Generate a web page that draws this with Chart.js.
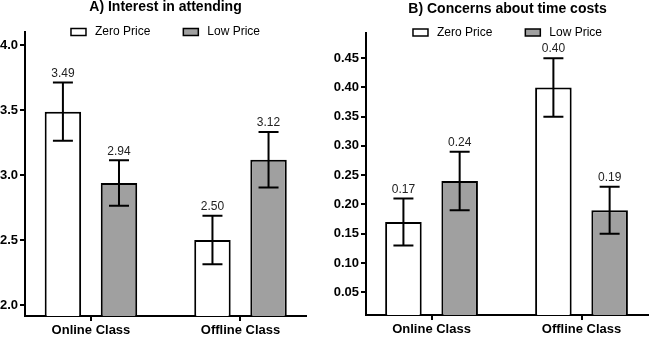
<!DOCTYPE html>
<html>
<head>
<meta charset="utf-8">
<script src="https://cdn.jsdelivr.net/npm/chart.js@4.4.0/dist/chart.umd.min.js"></script>
<style>
  html, body { margin: 0; padding: 0; background: #fff; }
  #wrap { position: relative; width: 649px; height: 337px; }
  #boxA { position: absolute; left: 0; top: 0; width: 320px; height: 337px; }
  #boxB { position: absolute; left: 320px; top: 0; width: 329px; height: 337px; }
</style>
</head>
<body>
<div id="wrap">
  <div id="boxA"><canvas id="chartA" width="320" height="337"></canvas></div>
  <div id="boxB"><canvas id="chartB" width="329" height="337"></canvas></div>
</div>
<script>
// categories + series
const classes = ['Online Class', 'Offline Class'];
const seriesNames = ['Zero Price', 'Low Price'];
const seriesColors = ['#ffffff', '#a0a0a0'];

// A) interest in attending
const interestZero = [3.49, 2.50];
const interestZeroErr = [0.225, 0.187];
const interestLow = [2.94, 3.12];
const interestLowErr = [0.175, 0.214];
const interestTicks = [2.0, 2.5, 3.0, 3.5, 4.0];

// B) concerns about time costs
const timeZero = [0.17, 0.40];
const timeZeroErr = [0.04, 0.05];
const timeLow = [0.24, 0.19];
const timeLowErr = [0.05, 0.04];
const timeTicks = [0.05, 0.10, 0.15, 0.20, 0.25, 0.30, 0.35, 0.40, 0.45];

const family = "'Liberation Sans', Arial, Helvetica, sans-serif";
Chart.defaults.font.family = family;

// error bars + value labels on top
const errorBars = {
  id: 'errorBars',
  afterDatasetsDraw(chart) {
    const ctx = chart.ctx;
    const yScale = chart.scales.y;
    chart.data.datasets.forEach((ds, di) => {
      chart.getDatasetMeta(di).data.forEach((bar, i) => {
        const v = ds.data[i].y, e = ds.errors[i];
        const top = yScale.getPixelForValue(v + e);
        const bot = yScale.getPixelForValue(v - e);
        ctx.save();
        ctx.strokeStyle = '#000';
        ctx.lineWidth = 2;
        ctx.beginPath();
        ctx.moveTo(bar.x, top); ctx.lineTo(bar.x, bot);
        ctx.moveTo(bar.x - 10, top); ctx.lineTo(bar.x + 10, top);
        ctx.moveTo(bar.x - 10, bot); ctx.lineTo(bar.x + 10, bot);
        ctx.stroke();
        ctx.fillStyle = '#222';
        ctx.font = '12px ' + family;
        ctx.textAlign = 'center';
        ctx.textBaseline = 'bottom';
        ctx.fillText(v.toFixed(2), bar.x, top - 3);
        ctx.restore();
      });
    });
  }
};

// title + legend with flat boxes, both centered over the plot area
const header = {
  id: 'header',
  afterDraw(chart, args, opts) {
    const ctx = chart.ctx, area = chart.chartArea;
    const mid = (area.left + area.right) / 2;
    ctx.save();
    ctx.fillStyle = '#000';
    ctx.font = 'bold 14px ' + family;
    ctx.textAlign = 'center';
    ctx.textBaseline = 'alphabetic';
    ctx.fillText(opts.title, mid, opts.titleY);

    ctx.font = '12px ' + family;
    const items = chart.data.datasets.map(ds => ({
      text: ds.label, color: ds.backgroundColor, w: ctx.measureText(ds.label).width
    }));
    const total = items.reduce((s, it) => s + 24 + it.w, 0) + 33 * (items.length - 1);
    let x = mid - total / 2;
    const yc = opts.legendY;
    items.forEach(it => {
      ctx.fillStyle = it.color;
      ctx.fillRect(x, yc - 3.5, 15, 7);
      ctx.strokeStyle = '#000';
      ctx.lineWidth = 1.5;
      ctx.strokeRect(x, yc - 3.5, 15, 7);
      ctx.fillStyle = '#000';
      ctx.textAlign = 'left';
      ctx.textBaseline = 'middle';
      ctx.fillText(it.text, x + 24, yc);
      x += 24 + it.w + 33;
    });
    ctx.restore();
  }
};

function makeChart(id, cfg) {
  const toPts = arr => arr.map((v, i) => ({ x: i, y: v }));
  return new Chart(document.getElementById(id), {
    type: 'bar',
    data: {
      datasets: [
        { label: seriesNames[0], data: toPts(cfg.zero), errors: cfg.zeroErr,
          backgroundColor: seriesColors[0], borderColor: '#000', borderWidth: 2 },
        { label: seriesNames[1], data: toPts(cfg.low), errors: cfg.lowErr,
          backgroundColor: seriesColors[1], borderColor: '#000', borderWidth: 2 }
      ]
    },
    options: {
      responsive: false,
      animation: false,
      categoryPercentage: 0.75,
      barPercentage: 0.65,
      layout: { padding: { left: 0, right: cfg.padRight, top: cfg.padTop, bottom: 0 } },
      plugins: {
        legend: { display: false },
        tooltip: { enabled: false },
        title: { display: false },
        header: { title: cfg.title, titleY: cfg.titleY, legendY: cfg.legendY }
      },
      scales: {
        x: {
          type: 'linear', min: cfg.xMin, max: cfg.xMax, offset: false,
          afterBuildTicks: s => { s.ticks = classes.map((c, i) => ({ value: i })); },
          afterFit: s => { s.height = cfg.xHeight; },
          ticks: { callback: v => classes[v], color: '#000', font: { size: 13, weight: 'bold' },
                   padding: 2, maxRotation: 0, autoSkip: false },
          grid: { offset: false, drawOnChartArea: false, tickLength: 5, color: '#000', lineWidth: 2 },
          border: { color: '#000', width: 2 }
        },
        y: {
          min: cfg.yMin, max: cfg.yMax,
          afterBuildTicks: s => { s.ticks = cfg.ticks.map(v => ({ value: v })); },
          afterFit: s => { s.width = cfg.yWidth; },
          ticks: { callback: v => v.toFixed(cfg.decimals), color: '#000', font: { size: 13, weight: 'bold' }, padding: 2 },
          grid: { drawOnChartArea: false, tickLength: 5, color: '#000', lineWidth: 2 },
          border: { color: '#000', width: 2 }
        }
      }
    },
    plugins: [errorBars, header]
  });
}

makeChart('chartA', {
  title: 'A) Interest in attending', titleY: 11, legendY: 32, padTop: 32,
  zero: interestZero, zeroErr: interestZeroErr, low: interestLow, lowErr: interestLowErr,
  ticks: interestTicks, decimals: 1, yMin: 1.915, yMax: 4.104, yWidth: 25,
  xMin: -0.441, xMax: 1.438, xHeight: 21, padRight: 14
});

makeChart('chartB', {
  title: 'B) Concerns about time costs', titleY: 13.3, legendY: 32.5, padTop: 33,
  zero: timeZero, zeroErr: timeZeroErr, low: timeLow, lowErr: timeLowErr,
  ticks: timeTicks, decimals: 2, yMin: 0.011, yMax: 0.493, yWidth: 46,
  xMin: -0.437, xMax: 1.45, xHeight: 22, padRight: 0
});
</script>
</body>
</html>
